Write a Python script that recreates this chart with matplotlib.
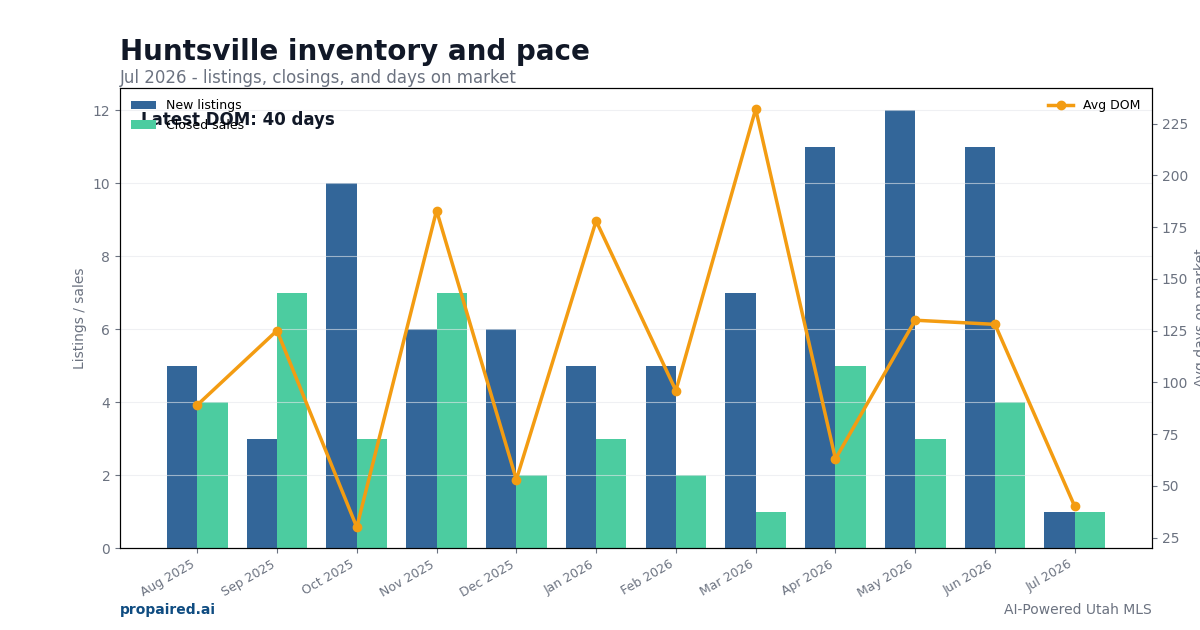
import numpy as np
import matplotlib
matplotlib.use("Agg")
import matplotlib.pyplot as plt

# -----------------------------
# Data
# -----------------------------
months = ["Aug 2025", "Sep 2025", "Oct 2025", "Nov 2025", "Dec 2025", "Jan 2026",
          "Feb 2026", "Mar 2026", "Apr 2026", "May 2026", "Jun 2026", "Jul 2026"]
new_listings = [5, 3, 10, 6, 6, 5, 5, 7, 11, 12, 11, 1]
closed_sales = [4, 7, 3, 7, 2, 3, 2, 1, 5, 3, 4, 1]
avg_dom = [89, 125, 30, 183, 53, 178, 96, 232, 63, 130, 128, 40]

BLUE = "#336699"
GREEN = "#4ccca0"
ORANGE = "#f39c12"
DARK = "#111827"
GREY = "#6b7280"

fig = plt.figure(figsize=(12, 6.3), dpi=100)
ax = fig.add_axes([0.1, 0.13, 0.86, 0.73])

x = np.arange(len(months))
w = 0.38
ax.bar(x - w / 2, new_listings, width=w, color=BLUE, label="New listings")
ax.bar(x + w / 2, closed_sales, width=w, color=GREEN, label="Closed sales")
ax.set_ylabel("Listings / sales", color=GREY, fontsize=10)
ax.set_xticks(x)
ax.set_xticklabels(months, rotation=30, ha="right", fontsize=9, color=GREY)
ax.tick_params(axis="y", colors=GREY, labelsize=10)
ax.tick_params(axis="x", colors=GREY)
ax.grid(axis="y", color="#e5e7eb", alpha=0.6, linewidth=0.8)
ax.legend(loc="upper left", frameon=False, fontsize=9)

ax2 = ax.twinx()
ax2.plot(x, avg_dom, color=ORANGE, linewidth=2.5, marker="o", markersize=6, label="Avg DOM")
ax2.set_ylabel("Avg days on market", color=GREY, fontsize=10)
ax2.tick_params(axis="y", colors=GREY, labelsize=10)
ax2.legend(loc="upper right", frameon=False, fontsize=9)

ax.text(0.02, 0.95, f"Latest DOM: {avg_dom[-1]} days", transform=ax.transAxes,
        ha="left", va="top", fontsize=12, fontweight="bold", color=DARK)

fig.text(0.1, 0.918, "Huntsville inventory and pace", fontsize=20, fontweight="bold",
         color=DARK, ha="left", va="center")
fig.text(0.1, 0.876, "Jul 2026 - listings, closings, and days on market", fontsize=12,
         color=GREY, ha="left", va="center")
fig.text(0.1, 0.032, "propaired.ai", fontsize=10, fontweight="bold", color="#0f4c81",
         ha="left", va="center")
fig.text(0.96, 0.032, "AI-Powered Utah MLS", fontsize=10, color=GREY,
         ha="right", va="center")

fig.savefig("out.png", dpi=100)
